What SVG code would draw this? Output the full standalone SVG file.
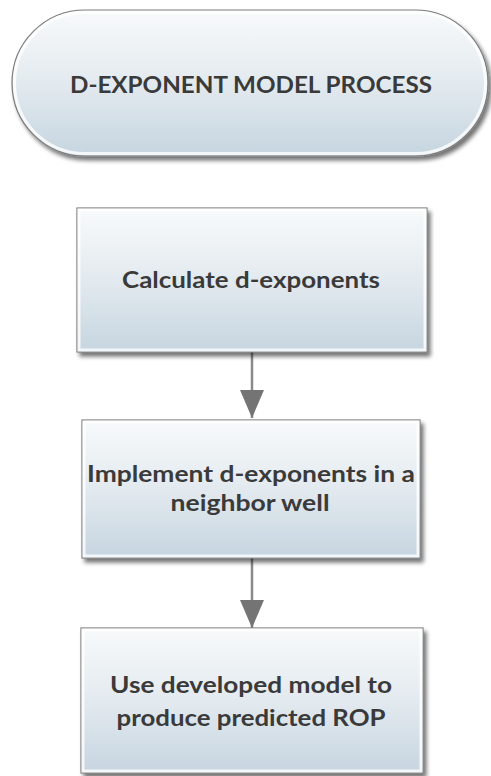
<svg xmlns="http://www.w3.org/2000/svg" width="491" height="776" viewBox="0 0 491 776">
  <defs>
    <linearGradient id="fill" x1="0" y1="0" x2="0" y2="1">
      <stop offset="0" stop-color="#f8fafb"/>
      <stop offset="0.5" stop-color="#e3eaef"/>
      <stop offset="1" stop-color="#c6d5e0"/>
    </linearGradient>
    <filter id="shadow" x="-10%" y="-10%" width="125%" height="130%">
      <feGaussianBlur in="SourceAlpha" stdDeviation="2"/>
      <feOffset dx="3" dy="4" result="b"/>
      <feComponentTransfer><feFuncA type="linear" slope="0.55"/></feComponentTransfer>
      <feMerge><feMergeNode/><feMergeNode in="SourceGraphic"/></feMerge>
    </filter>
    <marker id="arrow" viewBox="0 0 28 24" refX="28" refY="12" markerWidth="28" markerHeight="24" markerUnits="userSpaceOnUse" orient="auto">
      <path d="M0,0 L28,12 L0,24 Z" fill="#747474"/>
    </marker>
  </defs>
  <style>
    .shape { fill: url(#fill); stroke: #7c7c7c; stroke-width: 1.2; filter: url(#shadow); }
    .inner { fill: none; stroke: #ffffff; stroke-width: 3; stroke-opacity: 0.8; }
    .label { font-family: Lato, "Open Sans", "Liberation Sans", sans-serif; font-weight: bold; font-size: 22px; fill: #3a3a3a; text-anchor: middle; }
    .conn { stroke: #8a8a8a; stroke-width: 2.5; fill: none; }
  </style>
  <rect width="491" height="776" fill="#ffffff"/>

  <g id="connectors">
    <line class="conn" x1="252" y1="352" x2="252" y2="418" marker-end="url(#arrow)"/>
    <line class="conn" x1="252" y1="558" x2="252" y2="628" marker-end="url(#arrow)"/>
  </g>

  <g id="node-title">
    <rect class="shape" x="12" y="10" width="476" height="146" rx="73" ry="73"/>
    <rect class="inner" x="14.5" y="12.5" width="471" height="141" rx="70.5" ry="70.5"/>
    <text class="label" x="251" y="93" textLength="362" lengthAdjust="spacingAndGlyphs">D-EXPONENT MODEL PROCESS</text>
  </g>

  <g id="node-calculate">
    <rect class="shape" x="77" y="208" width="350" height="144"/>
    <rect class="inner" x="79" y="210" width="346" height="140"/>
    <text class="label" x="251" y="288" textLength="258" lengthAdjust="spacingAndGlyphs">Calculate d-exponents</text>
  </g>

  <g id="node-implement">
    <rect class="shape" x="82" y="420" width="338" height="138"/>
    <rect class="inner" x="84" y="422" width="334" height="134"/>
    <text class="label" x="251" y="482" textLength="328" lengthAdjust="spacingAndGlyphs">Implement d-exponents in a</text>
    <text class="label" x="250" y="511" textLength="159" lengthAdjust="spacingAndGlyphs">neighbor well</text>
  </g>

  <g id="node-use">
    <rect class="shape" x="81" y="628" width="342" height="145"/>
    <rect class="inner" x="83" y="630" width="338" height="141"/>
    <text class="label" x="251" y="693" textLength="282" lengthAdjust="spacingAndGlyphs">Use developed model to</text>
    <text class="label" x="251" y="726" textLength="269" lengthAdjust="spacingAndGlyphs">produce predicted ROP</text>
  </g>
</svg>
